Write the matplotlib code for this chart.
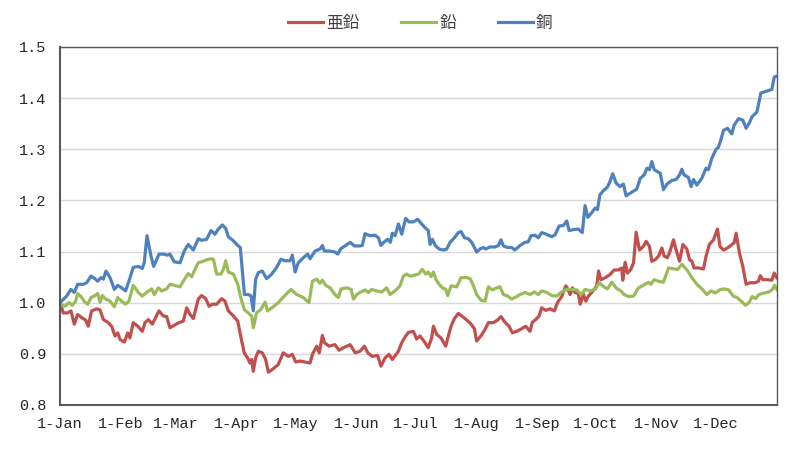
import matplotlib
matplotlib.use("Agg")
import matplotlib.pyplot as plt
import matplotlib.ticker as ticker
import pandas as pd

# Day offsets from 1 January and normalised prices
zinc_days = [0, 1.7, 3.9, 5.6, 7.3, 9.0, 11.0, 13.1, 14.4, 16.1, 18.7, 20.4, 22.1, 24.3, 26.3,
             28.0, 29.4, 30.6, 32.8, 34.5, 35.6, 37.3, 39.6, 41.9, 43.3, 45.0, 47.0, 48.7, 50.4,
             52.6, 54.3, 56.0, 58.2, 60.6, 62.8, 64.5, 66.2, 67.9, 70.4, 72.1, 74.2, 75.9, 77.6,
             79.8, 82.3, 84.0, 85.7, 88.3, 90.5, 92.2, 93.8, 95.5, 96.7, 97.6, 98.4, 99.6, 101.0,
             103.0, 104.7, 106.1, 108.6, 111.1, 113.7, 116.2, 118.3, 120.0, 122.2, 124.7, 127.3,
             128.5, 130.7, 132.0, 133.6, 134.6, 137.0, 140.0, 142.1, 144.3, 147.7, 150.3, 152.7,
             155.0, 156.7, 159.0, 161.7, 163.4, 165.5, 167.5, 169.2, 172.3, 174.0, 176.0, 177.4,
             179.9, 181.6, 183.3, 185.8, 187.5, 189.2, 190.1, 191.8, 194.0, 196.4, 197.7, 199.1,
             200.8, 202.8, 204.9, 207.1, 209.3, 211.0, 212.1, 214.3, 216.4, 218.1, 220.6, 222.8,
             224.5, 226.5, 228.6, 230.3, 232.5, 235.0, 237.1, 239.3, 240.5, 242.2, 243.9, 245.2,
             247.3, 249.5, 251.7, 253.4, 255.4, 257.5, 258.5, 259.7, 260.9, 262.2, 263.9, 264.8,
             266.5, 267.7, 269.0, 270.7, 272.0, 273.3, 274.2, 275.4, 277.6, 280.0, 282.1, 284.3,
             286.0, 286.5, 287.7, 288.9, 290.6, 292.0, 293.3, 295.0, 297.0, 298.4, 300.1, 301.3,
             303.0, 304.7, 306.4, 307.6, 309.2, 310.6, 312.3, 313.6, 315.4, 317.1, 319.1, 320.5,
             321.7, 322.8, 325.0, 327.6, 328.9, 330.6, 332.7, 334.7, 336.0, 337.8, 339.8, 341.5,
             343.2, 344.2, 345.9, 347.6, 349.3, 351.3, 353.9, 355.6, 356.5, 357.8, 359.9, 362.4,
             363.6, 364.9]
zinc = [1.000, 0.980, 0.980, 0.984, 0.958, 0.977, 0.971, 0.966, 0.954, 0.984, 0.988, 0.986, 0.967,
        0.962, 0.954, 0.935, 0.941, 0.928, 0.923, 0.941, 0.931, 0.961, 0.954, 0.944, 0.961, 0.967,
        0.958, 0.971, 0.984, 0.974, 0.973, 0.951, 0.956, 0.961, 0.964, 0.990, 0.977, 0.969, 1.007,
        1.014, 1.008, 0.993, 0.997, 0.997, 1.008, 1.003, 0.984, 0.974, 0.964, 0.931, 0.902, 0.892,
        0.882, 0.889, 0.866, 0.892, 0.905, 0.902, 0.889, 0.864, 0.871, 0.879, 0.902, 0.895, 0.899,
        0.884, 0.886, 0.884, 0.882, 0.899, 0.915, 0.902, 0.936, 0.922, 0.915, 0.918, 0.907, 0.912,
        0.918, 0.902, 0.905, 0.915, 0.902, 0.895, 0.897, 0.876, 0.892, 0.899, 0.889, 0.905, 0.922,
        0.935, 0.942, 0.944, 0.929, 0.935, 0.922, 0.912, 0.931, 0.954, 0.938, 0.931, 0.915, 0.935,
        0.954, 0.969, 0.979, 0.973, 0.966, 0.958, 0.949, 0.925, 0.935, 0.948, 0.961, 0.961, 0.966,
        0.973, 0.962, 0.954, 0.941, 0.944, 0.949, 0.954, 0.944, 0.962, 0.967, 0.974, 0.990, 0.985,
        0.988, 0.984, 1.001, 1.012, 1.033, 1.027, 1.016, 1.029, 1.020, 1.018, 0.997, 1.016, 1.003,
        1.013, 1.020, 1.026, 1.034, 1.062, 1.045, 1.049, 1.055, 1.064, 1.064, 1.068, 1.044, 1.079,
        1.058, 1.065, 1.078, 1.138, 1.103, 1.110, 1.120, 1.110, 1.081, 1.084, 1.091, 1.107, 1.091,
        1.088, 1.101, 1.123, 1.104, 1.081, 1.114, 1.105, 1.084, 1.081, 1.068, 1.068, 1.066, 1.091,
        1.114, 1.123, 1.144, 1.110, 1.103, 1.107, 1.112, 1.117, 1.136, 1.097, 1.071, 1.036, 1.039,
        1.039, 1.042, 1.053, 1.045, 1.045, 1.044, 1.058, 1.049]

lead_days = [0, 2.5, 4.6, 6.3, 8.0, 9.0, 10.7, 12.7, 14.1, 15.8, 17.8, 19.2, 20.4, 21.6, 22.9,
             25.5, 27.7, 29.4, 31.4, 33.4, 35.1, 37.3, 39.9, 41.9, 44.1, 46.7, 48.0, 50.1, 51.8,
             54.3, 56.0, 58.2, 61.1, 63.6, 65.3, 67.1, 68.7, 70.4, 72.1, 74.7, 76.9, 78.1, 79.8,
             81.9, 83.2, 84.4, 85.7, 88.3, 90.5, 92.2, 93.9, 95.9, 97.6, 98.4, 100.1, 102.3,
             104.4, 105.7, 108.6, 111.1, 114.2, 117.6, 120.5, 123.9, 126.8, 128.5, 130.7, 132.4,
             133.6, 135.3, 137.5, 140.0, 141.7, 143.1, 146.0, 148.2, 149.4, 151.1, 152.7, 155.3,
             157.0, 158.7, 161.2, 163.8, 166.3, 168.0, 170.6, 173.1, 174.8, 176.5, 178.2, 180.8,
             182.5, 184.5, 186.2, 187.5, 188.9, 190.1, 191.3, 193.0, 194.7, 196.4, 197.4, 199.1,
             202.0, 204.2, 207.1, 208.8, 210.5, 212.1, 214.3, 216.4, 218.1, 220.1, 222.3, 224.0,
             225.7, 227.9, 229.9, 232.5, 234.2, 236.7, 239.3, 241.5, 243.5, 245.2, 247.8, 250.4,
             252.9, 255.4, 258.0, 260.5, 263.1, 265.3, 267.3, 269.9, 272.4, 274.6, 276.6, 278.7,
             280.9, 283.1, 285.5, 287.2, 289.4, 292.0, 294.5, 297.0, 299.6, 300.8, 302.5, 304.7,
             307.2, 309.8, 312.7, 314.4, 316.6, 319.2, 321.7, 324.2, 326.8, 329.3, 331.4, 333.6,
             336.2, 338.2, 340.4, 342.7, 344.7, 346.8, 349.0, 350.7, 352.4, 354.1, 355.8, 358.4,
             360.9, 362.6, 363.8, 364.9]
lead = [0.997, 0.993, 1.000, 0.995, 1.003, 1.018, 1.012, 1.001, 0.997, 1.010, 1.014, 1.018, 1.001,
        1.014, 1.008, 1.003, 0.992, 1.010, 1.003, 0.997, 1.003, 1.034, 1.020, 1.013, 1.020, 1.027,
        1.016, 1.029, 1.023, 1.027, 1.036, 1.034, 1.031, 1.047, 1.057, 1.051, 1.065, 1.078, 1.080,
        1.084, 1.086, 1.085, 1.056, 1.056, 1.065, 1.082, 1.060, 1.056, 1.036, 1.008, 0.986, 0.980,
        0.974, 0.951, 0.980, 0.987, 1.001, 0.984, 0.992, 1.000, 1.013, 1.026, 1.016, 1.010, 1.000,
        1.042, 1.046, 1.038, 1.044, 1.034, 1.029, 1.016, 1.010, 1.027, 1.029, 1.026, 1.007, 1.016,
        1.020, 1.025, 1.020, 1.026, 1.023, 1.021, 1.029, 1.016, 1.023, 1.033, 1.052, 1.056, 1.052,
        1.054, 1.056, 1.065, 1.056, 1.060, 1.051, 1.060, 1.046, 1.036, 1.029, 1.026, 1.014, 1.033,
        1.031, 1.049, 1.049, 1.047, 1.033, 1.016, 1.005, 1.003, 1.031, 1.025, 1.029, 1.031, 1.016,
        1.013, 1.007, 1.012, 1.016, 1.020, 1.016, 1.021, 1.016, 1.023, 1.020, 1.014, 1.013, 1.021,
        1.026, 1.026, 1.025, 1.016, 1.026, 1.023, 1.026, 1.039, 1.032, 1.027, 1.040, 1.029, 1.023,
        1.016, 1.012, 1.013, 1.029, 1.034, 1.040, 1.036, 1.045, 1.042, 1.040, 1.068, 1.066, 1.065,
        1.075, 1.064, 1.049, 1.036, 1.027, 1.016, 1.023, 1.019, 1.026, 1.027, 1.025, 1.013, 1.010,
        1.003, 0.995, 1.000, 1.012, 1.008, 1.016, 1.019, 1.021, 1.026, 1.034, 1.026]

copper_days = [0, 3.4, 5.6, 7.3, 9.0, 11.9, 13.6, 15.8, 17.8, 19.2, 20.9, 22.1, 23.4, 25.5, 27.7,
               29.4, 31.4, 33.4, 35.1, 37.3, 39.9, 41.9, 42.9, 44.3, 46.3, 47.7, 50.4, 52.6, 54.8,
               56.0, 58.2, 61.1, 63.3, 65.3, 67.9, 70.4, 72.1, 74.7, 76.9, 78.9, 80.6, 82.7, 84.4,
               85.7, 88.3, 90.5, 91.8, 92.8, 93.9, 95.9, 97.3, 98.4, 99.6, 101.0, 103.0, 105.2,
               107.8, 110.3, 112.5, 114.6, 117.1, 118.3, 119.7, 121.3, 123.9, 126.1, 127.3, 129.9,
               132.4, 133.6, 134.6, 137.5, 140.0, 141.4, 143.1, 145.1, 147.7, 149.9, 152.7, 153.9,
               155.3, 157.8, 160.4, 162.1, 163.4, 165.1, 166.8, 168.2, 169.2, 170.6, 172.3, 174.0,
               176.0, 177.7, 179.9, 182.1, 184.1, 185.8, 187.5, 188.4, 189.6, 191.0, 193.0, 195.2,
               196.9, 198.6, 200.8, 202.8, 204.2, 205.9, 207.9, 209.6, 211.0, 212.1, 213.8, 215.5,
               216.7, 218.9, 221.5, 223.2, 224.5, 225.7, 227.9, 229.9, 231.6, 234.2, 236.7, 238.4,
               239.8, 241.8, 243.5, 245.2, 246.9, 248.6, 250.4, 252.1, 254.1, 256.3, 258.0, 259.2,
               261.4, 263.9, 265.9, 267.3, 268.7, 270.7, 272.4, 273.6, 274.9, 276.6, 278.7, 280.0,
               281.4, 283.1, 285.1, 286.8, 288.2, 290.6, 293.6, 295.4, 297.4, 298.8, 300.1, 301.3,
               302.5, 305.6, 307.2, 309.0, 311.5, 313.7, 315.4, 316.6, 317.7, 319.9, 321.3, 322.5,
               324.2, 326.7, 328.9, 330.1, 331.8, 334.0, 335.2, 336.4, 337.8, 339.8, 342.0, 343.2,
               345.4, 347.6, 349.3, 351.0, 352.2, 354.8, 356.8, 359.9, 362.4, 363.6, 364.9]
copper = [1.000, 1.013, 1.026, 1.020, 1.036, 1.036, 1.039, 1.052, 1.047, 1.042, 1.049, 1.046, 1.062,
          1.049, 1.026, 1.034, 1.029, 1.023, 1.042, 1.069, 1.071, 1.067, 1.078, 1.131, 1.092, 1.071,
          1.095, 1.095, 1.093, 1.095, 1.080, 1.078, 1.101, 1.114, 1.103, 1.125, 1.122, 1.124, 1.141,
          1.134, 1.144, 1.152, 1.145, 1.129, 1.121, 1.112, 1.108, 1.065, 1.016, 1.016, 1.013, 0.984,
          1.046, 1.059, 1.062, 1.047, 1.056, 1.069, 1.085, 1.082, 1.082, 1.093, 1.060, 1.078, 1.088,
          1.095, 1.086, 1.101, 1.105, 1.112, 1.101, 1.101, 1.099, 1.095, 1.106, 1.111, 1.118, 1.111,
          1.111, 1.112, 1.135, 1.131, 1.132, 1.127, 1.112, 1.119, 1.124, 1.118, 1.136, 1.131, 1.154,
          1.134, 1.165, 1.158, 1.158, 1.163, 1.154, 1.147, 1.141, 1.114, 1.124, 1.112, 1.105, 1.103,
          1.105, 1.118, 1.127, 1.137, 1.139, 1.127, 1.125, 1.118, 1.108, 1.099, 1.105, 1.108, 1.105,
          1.109, 1.109, 1.112, 1.123, 1.111, 1.108, 1.108, 1.103, 1.112, 1.118, 1.119, 1.131, 1.132,
          1.127, 1.137, 1.135, 1.132, 1.129, 1.133, 1.150, 1.151, 1.160, 1.141, 1.143, 1.144, 1.137,
          1.190, 1.167, 1.176, 1.185, 1.182, 1.211, 1.219, 1.226, 1.237, 1.252, 1.234, 1.227, 1.232,
          1.209, 1.215, 1.222, 1.243, 1.250, 1.263, 1.260, 1.276, 1.260, 1.253, 1.221, 1.232, 1.239,
          1.241, 1.250, 1.261, 1.250, 1.245, 1.227, 1.241, 1.230, 1.243, 1.263, 1.260, 1.282, 1.300,
          1.304, 1.318, 1.337, 1.341, 1.330, 1.347, 1.360, 1.357, 1.341, 1.352, 1.363, 1.373, 1.410,
          1.414, 1.417, 1.441, 1.443]

series_names = ["亜鉛", "鉛", "銅"]
series_colors = ["#C0504D", "#9BBB59", "#4F81BD"]

month_labels = ["1-Jan", "1-Feb", "1-Mar", "1-Apr", "1-May", "1-Jun",
                "1-Jul", "1-Aug", "1-Sep", "1-Oct", "1-Nov", "1-Dec"]

YEAR_START = pd.Timestamp("2021-01-01")


def to_dates(days):
    return YEAR_START + pd.to_timedelta(days, unit="D")


fig = plt.figure(figsize=(7.9, 4.62), dpi=100)
ax = fig.add_axes([0.0759, 0.1234, 0.9076, 0.7749])

for days, vals, name, color in zip([zinc_days, lead_days, copper_days],
                                   [zinc, lead, copper], series_names, series_colors):
    ax.plot(to_dates(days), vals, color=color, linewidth=2.3, label=name,
            solid_joinstyle="round")

ax.set_ylim(0.8, 1.5)
ax.set_xlim(YEAR_START, YEAR_START + pd.Timedelta(days=365))
ax.yaxis.set_major_locator(ticker.MultipleLocator(0.1))
ax.yaxis.set_major_formatter(ticker.FormatStrFormatter("%.1f"))

month_starts = pd.date_range(YEAR_START, periods=12, freq="MS")
ax.set_xticks(month_starts)
ax.set_xticklabels(month_labels)

ax.grid(axis="y", color="#d9d9d9", linewidth=1.0)
ax.set_axisbelow(True)

for side, spine in ax.spines.items():
    spine.set_color("#595959")
    spine.set_linewidth(1.5 if side in ("left", "bottom") else 1.0)

ax.tick_params(length=0, labelsize=11, colors="#262626")
ax.tick_params(axis="y", pad=10)
ax.tick_params(axis="x", pad=9)
for lab in ax.get_xticklabels() + ax.get_yticklabels():
    lab.set_family("Liberation Mono")

leg = fig.legend(loc="center", bbox_to_anchor=(0.532, 0.95), ncol=3, frameon=False,
                 prop={"family": ["Noto Sans CJK JP", "DejaVu Sans"], "size": 12},
                 handlelength=2.1, columnspacing=2.5, handletextpad=0.2)
for t in leg.get_texts():
    t.set_color("#404040")

fig.savefig("out.png", dpi=100, facecolor="white")
